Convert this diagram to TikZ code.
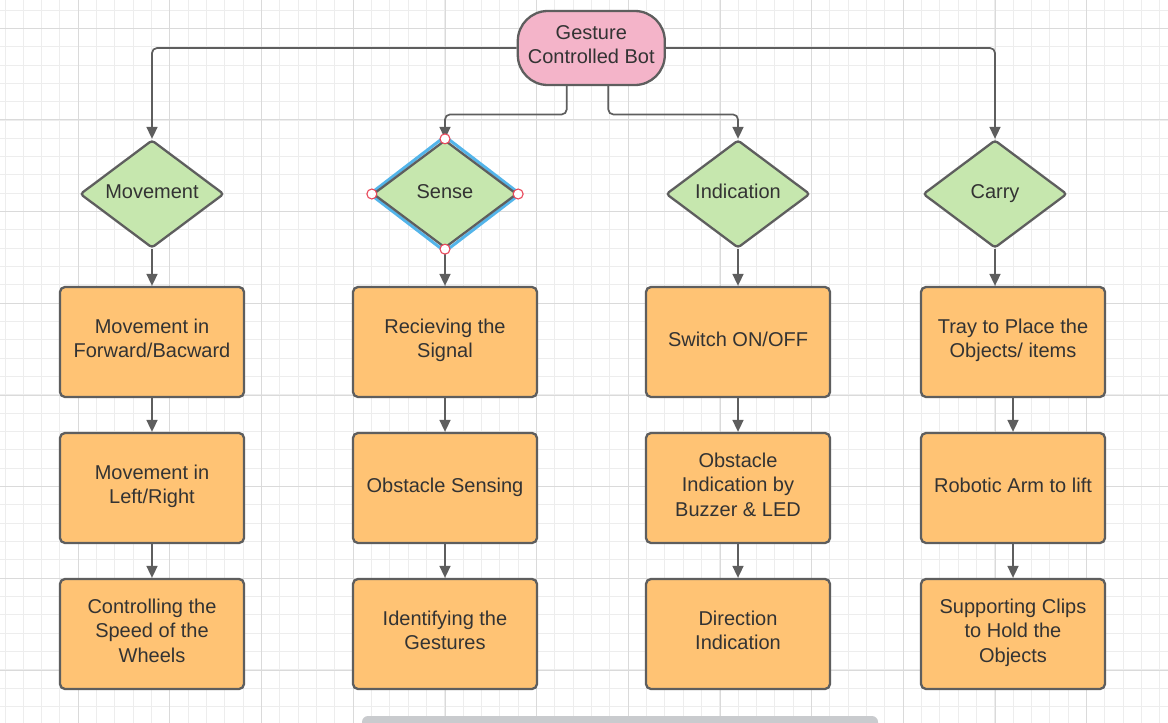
\documentclass[tikz,border=0pt]{standalone}
\usepackage{fontspec}
\setmainfont{Liberation Sans}
\usetikzlibrary{shapes.geometric,arrows.meta}
\definecolor{gridminor}{HTML}{EDEDED}
\definecolor{gridmajor}{HTML}{DADADA}
\definecolor{edge}{HTML}{5E5E5E}
\definecolor{txt}{HTML}{333333}
\definecolor{pinkfill}{HTML}{F4B4C9}
\definecolor{greenfill}{HTML}{C6E7AE}
\definecolor{orangefill}{HTML}{FFC374}
\definecolor{selblue}{HTML}{53B5EA}
\definecolor{handlered}{HTML}{E8485A}
\definecolor{scrollgrey}{HTML}{C9CBCE}
\begin{document}
\begin{tikzpicture}[x=1pt,y=-1pt,
  base/.style={draw=edge, line width=2.3pt, text=txt, font=\fontsize{20}{24.5}\selectfont, align=center, inner sep=0pt,
    execute at begin node=\strut, execute at end node=\strut},
  startbox/.style={base, fill=pinkfill, rounded corners=30pt, minimum width=147pt, minimum height=74pt},
  decision/.style={base, fill=greenfill, diamond, aspect=1.333, minimum width=144pt, minimum height=108pt, rounded corners=3pt},
  stepbox/.style={base, fill=orangefill, rounded corners=5pt, minimum width=184pt, minimum height=110pt},
  conn/.style={draw=edge, line width=1.7pt, rounded corners=5pt, -{Triangle[length=12pt,width=11pt]}},
  handle/.style={draw=handlered, fill=white, line width=1.1pt},
]
\useasboundingbox (0,0) rectangle (1168,723);
\clip (0,0) rectangle (1168,723);
\fill[white] (0,0) rectangle (1168,723);
% grid
\foreach \i in {0,...,63} \draw[gridminor, line width=1pt] ({5+18.333*\i},0) -- ({5+18.333*\i},723);
\foreach \i in {0,...,39} \draw[gridminor, line width=1pt] (0,{10+18.333*\i}) -- (1168,{10+18.333*\i});
\foreach \i in {0,...,11} \draw[gridmajor, line width=1pt] ({78.33+91.667*\i},0) -- ({78.33+91.667*\i},723);
\foreach \i in {0,...,7} \draw[gridmajor, line width=1pt] (0,{28.33+91.667*\i}) -- (1168,{28.33+91.667*\i});
% selection outline of the Sense diamond
\draw[selblue, line width=3pt, line join=round] (445,136.5) -- (520,194) -- (445,251.5) -- (370,194) -- cycle;

% nodes
\node[startbox] (top) at (591.3,48) {Gesture\\Controlled Bot};
\node[decision] (d1) at (152,194) {Movement};
\node[decision] (d2) at (445,194) {Sense};
\node[decision] (d3) at (738,194) {Indication};
\node[decision] (d4) at (995,194) {Carry};

\node[stepbox] (b11) at (152,342) {Movement in\\Forward/Bacward};
\node[stepbox] (b12) at (152,488) {Movement in\\Left/Right};
\node[stepbox] (b13) at (152,634) {Controlling the\\Speed of the\\Wheels};

\node[stepbox] (b21) at (445,342) {Recieving the\\Signal};
\node[stepbox] (b22) at (445,488) {Obstacle Sensing};
\node[stepbox] (b23) at (445,634) {Identifying the\\Gestures};

\node[stepbox] (b31) at (738,342) {Switch ON/OFF};
\node[stepbox] (b32) at (738,488) {Obstacle\\Indication by\\Buzzer \& LED};
\node[stepbox] (b33) at (738,634) {Direction\\Indication};

\node[stepbox] (b41) at (1013,342) {Tray to Place the\\Objects/ items};
\node[stepbox] (b42) at (1013,488) {Robotic Arm to lift};
\node[stepbox] (b43) at (1013,634) {Supporting Clips\\to Hold the\\Objects};

% connectors
\draw[conn] (top.west) -| (d1.north);
\draw[conn] (top.east) -| (d4.north);
\draw[conn] ([xshift=-24.6pt]top.south) -- ++(0,28.3) -| (d2.north);
\draw[conn] ([xshift=17pt]top.south) -- ++(0,28.3) -| (d3.north);

\draw[conn] (d1.south) -- (b11.north);
\draw[conn] (d2.south) -- (b21.north);
\draw[conn] (d3.south) -- (b31.north);
\draw[conn] (d4.south) -- (d4.south |- b41.north);

\draw[conn] (b11.south) -- (b12.north);
\draw[conn] (b12.south) -- (b13.north);
\draw[conn] (b21.south) -- (b22.north);
\draw[conn] (b22.south) -- (b23.north);
\draw[conn] (b31.south) -- (b32.north);
\draw[conn] (b32.south) -- (b33.north);
\draw[conn] (b41.south) -- (b42.north);
\draw[conn] (b42.south) -- (b43.north);

% selection handles
\draw[handle] (d2.north) circle (5pt);
\draw[handle] (d2.south) circle (5pt);
\draw[handle] (d2.west) circle (5pt);
\draw[handle] (d2.east) circle (5pt);

% scroll bar
\fill[scrollgrey, rounded corners=6pt] (362,716) rectangle (878,740);
\end{tikzpicture}
\end{document}
